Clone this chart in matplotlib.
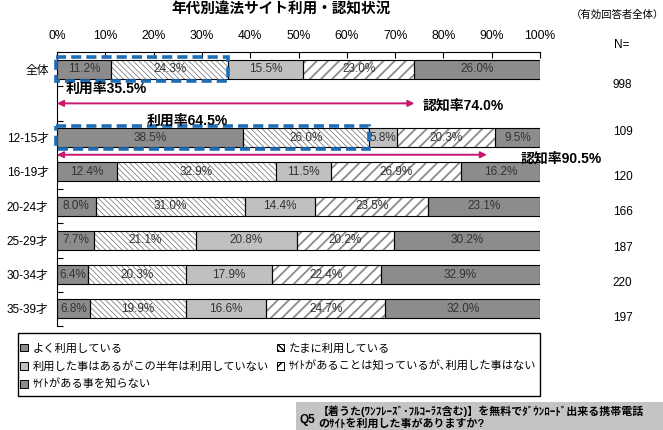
import matplotlib
matplotlib.use("Agg")
import matplotlib.pyplot as plt
from matplotlib.patches import Rectangle, Patch
from matplotlib.transforms import blended_transform_factory

plt.rcParams['font.family'] = ['Liberation Sans', 'Noto Sans CJK JP']

ages = ['全体', '12-15才', '16-19才', '20-24才', '25-29才', '30-34才', '35-39才']
rows = [0, 2, 3, 4, 5, 6, 7]  # slot 1 is left blank for the notes

often = [11.2, 38.5, 12.4, 8.0, 7.7, 6.4, 6.8]
sometimes = [24.3, 26.0, 32.9, 31.0, 21.1, 20.3, 19.9]
used_before = [15.5, 5.8, 11.5, 14.4, 20.8, 17.9, 16.6]
aware_only = [23.0, 20.3, 26.9, 23.5, 20.2, 22.4, 24.7]
unaware = [26.0, 9.5, 16.2, 23.1, 30.2, 32.9, 32.0]
n_values = [998, 109, 120, 166, 187, 220, 197]

series_names = ['よく利用している', 'たまに利用している',
                '利用した事はあるがこの半年は利用していない',
                'ｻｲﾄがあることは知っているが､利用した事はない',
                'ｻｲﾄがある事を知らない']

use_rates = [35.5, 64.5]
aware_rates = [74.0, 90.5]
arrow_ends = [74.0, 89.0]

# face, hatch, hatch colour, hatch width
styles = [
    ('#8c8c8c', None, None, 0.5),
    ('white', '\\\\\\\\\\\\', '#6e6e6e', 0.5),
    ('#c0c0c0', None, None, 0.5),
    ('white', '///', '#8c8c8c', 1.3),
    ('#8c8c8c', None, None, 0.5),
]

fig = plt.figure(figsize=(6.63, 4.30), dpi=100)
ax = fig.add_axes([57 / 663, 1 - 326 / 430, 483 / 663, 274 / 430])

h = 0.55
left = [0.0] * len(rows)
for vals, (fc, hatch, hc, hlw) in zip([often, sometimes, used_before, aware_only, unaware], styles):
    with plt.rc_context({'hatch.linewidth': hlw}):
        if hatch:
            ax.barh(rows, vals, left=left, height=h, color=fc, edgecolor=hc,
                    hatch=hatch, linewidth=0, zorder=2)
        else:
            ax.barh(rows, vals, left=left, height=h, color=fc, linewidth=0, zorder=2)
    ax.barh(rows, vals, left=left, height=h, fill=False, edgecolor='black',
            linewidth=0.8, zorder=3)
    for r, l, v in zip(rows, left, vals):
        ax.text(l + v / 2, r, f'{v:.1f}%', ha='center', va='center',
                fontsize=8.5, color='#333333', zorder=4)
    left = [a + b for a, b in zip(left, vals)]

ax.set_xlim(0, 100)
ax.set_ylim(7.5, -0.5)
ax.xaxis.tick_top()
ax.set_xticks(range(0, 101, 10))
ax.set_xticklabels([f'{t}%' for t in range(0, 101, 10)], fontsize=8.7)
ax.tick_params(axis='x', direction='in', length=4, pad=7, width=0.8)
ax.set_yticks([r + 0.5 for r in range(-1, 8)])
ax.set_yticklabels([])
ax.tick_params(axis='y', which='major', direction='in', length=4, width=0.8)
ax.set_yticks(rows, minor=True)
ax.set_yticklabels(ages, minor=True, fontsize=8.5)
ax.tick_params(axis='y', which='minor', length=0, pad=6)
for s in ['right', 'bottom']:
    ax.spines[s].set_visible(False)
for s in ['top', 'left']:
    ax.spines[s].set_linewidth(0.8)

# dashed usage boxes
for r, u in zip(rows[:2], use_rates):
    ax.add_patch(Rectangle((-0.3, r - 0.34), u + 0.3, 0.68, fill=False,
                           edgecolor='#1f6db5', linewidth=2.6,
                           linestyle=(0, (2.8, 1.4)), zorder=5, clip_on=False))

# awareness arrows
for y, end in zip([1.0, 2.5], arrow_ends):
    ax.annotate('', xy=(end, y), xytext=(0, y),
                arrowprops=dict(arrowstyle='<|-|>', color='#c8186e', lw=1.4,
                                mutation_scale=9, shrinkA=0, shrinkB=0),
                annotation_clip=False, zorder=6)

bold = dict(fontsize=10, fontweight='bold', va='center', zorder=7)
ax.text(1.7, 0.58, f'利用率{use_rates[0]:.1f}%', **bold)
ax.text(75.6, 1.07, f'認知率{aware_rates[0]:.1f}%', **bold)
ax.text(18.6, 1.5, f'利用率{use_rates[1]:.1f}%', **bold)
ax.text(95.9, 2.62, f'認知率{aware_rates[1]:.1f}%', clip_on=False, **bold)

# N column
tr = blended_transform_factory(ax.transAxes, ax.transData)
n_offsets = [0.47, -0.15, 0.15, 0.17, 0.22, 0.25, 0.27]
for r, n, o in zip(rows, n_values, n_offsets):
    ax.text(1.151, r + o, str(n), transform=tr, fontsize=8.5, va='center',
            clip_on=False)
fig.text(614 / 663, 1 - 45 / 430, 'N=', fontsize=8.5, va='center')

fig.text(281 / 663, 1 - 10 / 430, '年代別違法サイト利用・認知状況',
         fontsize=10.5, fontweight='bold', ha='center', va='center')
fig.text(617 / 663, 1 - 15 / 430, '（有効回答者全体）', fontsize=7.5,
         ha='center', va='center')

# legend (frame drawn separately)
fig.patches.append(Rectangle((18 / 663, 1 - 396 / 430), 522 / 663, 63 / 430,
                             transform=fig.transFigure, facecolor='white',
                             edgecolor='black', linewidth=1.0))
handles = []
for name, (fc, hatch, hc, hlw) in zip(series_names, styles):
    handles.append(Patch(facecolor=fc, edgecolor='black', hatch=hatch,
                         linewidth=0.7, label=name))
order = [0, 2, 4, 1, 3]
fig.legend([handles[i] for i in order], [series_names[i] for i in order],
           ncol=2, loc='upper left',
           bbox_to_anchor=(20 / 663, 1 - 343 / 430),
           borderaxespad=0, borderpad=0, fontsize=8.1, handlelength=0.7,
           handleheight=0.7, handletextpad=0.4, labelspacing=0.65,
           columnspacing=0.7, frameon=False)

# question box
fig.patches.append(Rectangle((296 / 663, 0), 1 - 296 / 663, 28 / 430,
                             transform=fig.transFigure, facecolor='#c4c4c4',
                             edgecolor='none'))
fig.text(299 / 663, 1 - 420 / 430, 'Q5', fontsize=8.5, fontweight='bold',
         va='center')
fig.text(318 / 663, 1 - 411 / 430,
         '【着うた(ﾜﾝﾌﾚｰｽﾞ･ﾌﾙｺｰﾗｽ含む)】を無料でﾀﾞｳﾝﾛｰﾄﾞ出来る携帯電話',
         fontsize=7.9, fontweight='bold', va='center')
fig.text(318 / 663, 1 - 424 / 430, 'のｻｲﾄを利用した事がありますか?',
         fontsize=7.9, fontweight='bold', va='center')

fig.savefig('out.png', dpi=100)
